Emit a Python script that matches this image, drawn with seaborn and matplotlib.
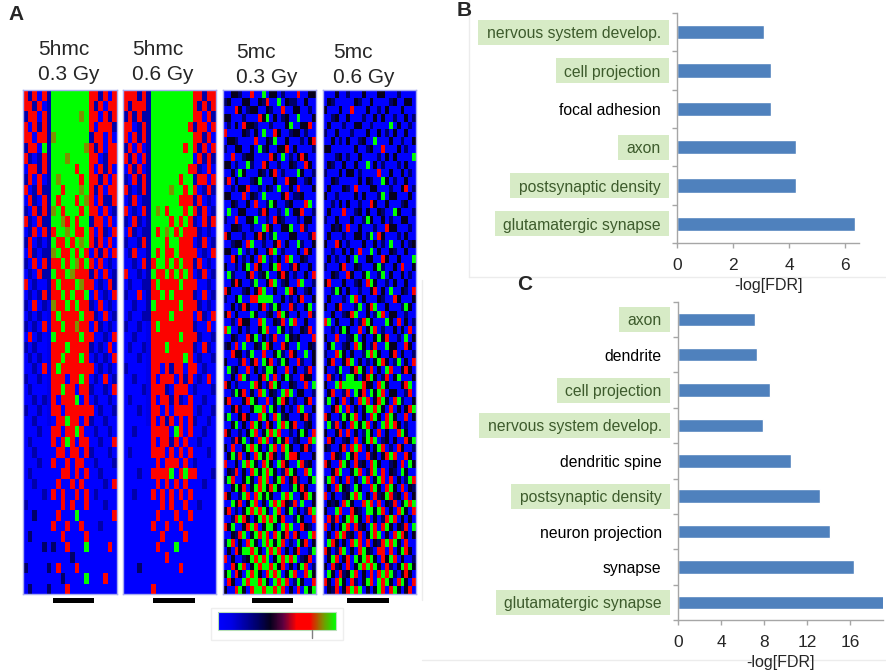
import numpy as np
import matplotlib
matplotlib.use("Agg")
import matplotlib.pyplot as plt
import seaborn as sns
from matplotlib import font_manager as fm
from matplotlib.colors import LinearSegmentedColormap, Normalize
from matplotlib.cm import ScalarMappable
from matplotlib.patches import Rectangle
from matplotlib.lines import Line2D

# ---------------- data ----------------
heat_titles = [("5hmc", "0.3 Gy"), ("5hmc", "0.6 Gy"), ("5mc", "0.3 Gy"), ("5mc", "0.6 Gy")]

# heatmap levels, digit 0 (blue) .. 9 (green)
hmc_03 = [
    "72707" "2" "99999999" "772707", "77270" "2" "99999999" "727077",
    "27707" "2" "99999989" "770727", "70727" "2" "99999999" "707772",
    "77077" "2" "89999999" "277070", "27709" "2" "99999998" "727077",
    "72027" "2" "99989999" "770277", "07727" "2" "99999799" "707270",
    "27070" "2" "98999979" "772707", "70272" "2" "99799989" "727077",
    "07207" "2" "97999798" "707227", "20727" "2" "89799979" "770702",
    "72072" "2" "99879799" "277070", "02707" "2" "79989779" "707207",
    "27020" "2" "97797989" "727070", "07202" "2" "89779797" "072707",
    "20707" "2" "77979879" "707020", "02072" "2" "97798777" "270702",
    "70200" "2" "79777987" "702072", "02027" "2" "77979779" "070207",
    "20702" "1" "87797977" "207020", "02020" "1" "79777797" "720702",
    "20207" "1" "77977877" "072020", "07020" "1" "97777797" "700207",
    "20200" "1" "77797777" "202070", "02020" "1" "77977797" "020207",
    "00207" "1" "79777777" "702020", "20020" "1" "77707797" "020702",
    "02000" "1" "77977077" "200207", "00202" "1" "70777907" "020020",
    "20020" "1" "77077777" "702002", "00200" "1" "07797707" "200200",
    "00020" "0" "77077970" "020020", "02000" "0" "70797077" "002007",
    "00200" "0" "07707707" "200020", "00020" "0" "70070770" "020002",
    "02000" "0" "00770707" "002000", "00200" "0" "07007070" "000207",
    "00002" "0" "70700707" "020000", "20000" "0" "00707007" "000200",
    "00300" "0" "07000900" "000007", "00000" "0" "70070070" "002000",
    "03000" "0" "00700007" "000000", "00003" "0" "30070009" "000070",
    "00000" "0" "00003000" "000000", "30000" "3" "07000700" "000000",
    "00000" "0" "00300009" "000700", "03000" "3" "00070000" "000000",
]
hmc_06 = [
    "77727" "2" "999999999" "77277", "72777" "2" "999999999" "72727",
    "27272" "2" "999999999" "77072", "77027" "2" "999999997" "27707",
    "70727" "2" "999999999" "77270", "27070" "2" "999999979" "72707",
    "72707" "2" "999999999" "07272", "07270" "2" "999999997" "72070",
    "20727" "2" "999999799" "27707", "72027" "2" "999989979" "70272",
    "02702" "2" "999999777" "27020", "70207" "2" "989799979" "72702",
    "20720" "2" "999979797" "20727", "07202" "2" "979897977" "72020",
    "20027" "2" "999799777" "02702", "02700" "2" "979779777" "70207",
    "00207" "2" "799797977" "27020", "70020" "2" "977979797" "02702",
    "02002" "2" "797777977" "70020", "20070" "2" "779797777" "20702",
    "00200" "2" "977777977" "72020", "02002" "2" "777797777" "07207",
    "20020" "1" "797777777" "20070", "00200" "1" "777777977" "72002",
    "02002" "1" "777977777" "20720", "00020" "1" "777777797" "02002",
    "20000" "1" "770727707" "70200", "00200" "1" "707770727" "02070",
    "00002" "1" "777207770" "20002", "02000" "1" "707727207" "00200",
    "00020" "1" "770707777" "02002", "00000" "1" "707270707" "20020",
    "00200" "0" "777709707" "00200", "00000" "0" "707727070" "02000",
    "02000" "0" "777070707" "00020", "00000" "0" "070777070" "20000",
    "00020" "0" "777790797" "70002", "00000" "0" "070707070" "00200",
    "00200" "0" "707070707" "00000", "00000" "0" "007070070" "02000",
    "00000" "0" "070007007" "00000", "00000" "0" "700700700" "00000",
    "00000" "0" "007000070" "00000", "00000" "0" "070009000" "00000",
    "00000" "0" "000700000" "00000", "00030" "0" "000000700" "00000",
    "00000" "0" "000000000" "00000", "00000" "0" "700000000" "00000",
]
mc_03 = [
    "004430 060090 440300 060044", "340004 400436 009043 300400",
    "000640 344004 300600 440030", "440003 000649 040340 090004",
    "030406 443000 300049 004460", "600004 304090 064003 440300",
    "044300 006004 390040 003046", "300440 040934 004460 400003",
    "006003 440000 640903 046400", "440300 930064 003004 300640",
    "004094 000430 460300 094003", "360400 034900 040064 400340",
    "003044 600304 309004 060004", "440006 043090 000460 334000",
    "004300 406003 940034 000690", "090044 000364 003090 446003",
    "300600 449003 064300 030440", "004430 030096 400449 006300",
    "640003 004640 390004 400036", "003440 690030 046040 093004",
    "440090 304004 690300 040640", "006403 040690 304069 004300",
    "400304 906400 496003 640040", "093000 460349 004640 300406",
    "004640 039004 690340 069003", "640003 404690 040096 400340",
    "300490 066999 900403 046004", "004036 400460 394006 300490",
    "460400 094003 406940 040063", "003064 400690 043609 600400",
    "690040 300496 009403 004360", "004300 649040 360094 340006",
    "340609 004396 400640 090043", "006440 390060 049306 400904",
    "400036 046094 603940 063004", "093400 604039 940060 400360",
    "004069 300469 060493 006440", "640300 096403 694004 300609",
    "003946 040690 430969 044003", "460004 694006 049640 300460",
    "004630 049960 940403 069004", "390046 400694 069340 004630",
    "004904 069406 409694 600340", "640030 496049 696003 049406",
    "003649 040696 049460 340069", "406004 969403 960694 004630",
    "049360 406949 640396 640004", "600409 694069 409640 096340",
    "043604 069496 940369 400690", "396004 940696 049604 630049",
    "004946 049694 694003 946400", "640039 606949 400969 004694",
    "009460 496040 969643 609004", "460304 969694 096049 040369",
    "003696 404969 694600 394006", "649004 696049 940969 006430",
    "004369 049696 069460 640096", "396040 694096 949603 094604",
    "040649 969409 696040 460039", "604003 496969 049696 903460",
    "006496 049699 694604 049603", "490640 969406 969049 600694",
    "064009 699694 096960 394006", "400694 069969 969604 060949",
]
mc_06 = [
    "000400 300040 004400 030000", "043000 004300 400003 400440",
    "400040 060004 003040 004000", "003400 400030 040400 300403",
    "040003 004400 300009 040030", "300400 030004 004030 400400",
    "004030 400340 090004 003004", "440000 004003 400600 040300",
    "000340 300400 003040 400009", "043004 004009 040300 030400",
    "300040 440300 006004 004030", "004300 000404 300940 300400",
    "040004 306000 440003 004603", "400300 004040 003904 400040",
    "003040 400300 640040 003400", "040006 003404 004300 940003",
    "300400 040039 400403 004400", "004340 600400 030064 400030",
    "040003 004403 906400 030400", "400640 300040 040309 004034",
    "003004 040600 904004 300400", "040300 409004 400640 040009",
    "300046 004300 049300 406004", "004300 640049 003904 004030",
    "460004 003406 940030 400400", "003940 400300 460409 004306",
    "040003 096040 004300 640004", "400460 003904 690040 003940",
    "004003 469004 039604 400300", "690400 040369 400094 060403",
    "003049 400604 960300 404060", "400600 349040 049460 030904",
    "049003 406940 360094 400640", "300694 040039 694004 604003",
    "046004 690403 049640 390406", "400390 046940 604096 004640",
    "063040 994046 940360 490004", "400969 999964 406940 004690",
    "046003 609460 949604 400360", "390406 040696 046940 693004",
    "004690 604049 969406 040469", "640039 496040 694069 400604",
    "093604 069496 040969 640300", "400460 604039 406040 069400",
    "064003 406049 690340 400649", "430046 069604 049603 064003",
    "006430 946006 340469 600640", "640069 406340 694003 406094",
    "004690 049603 690604 309400", "396040 604096 049606 040396",
    "040694 309400 694069 406043", "604003 496904 063496 340604",
    "043406 940069 606043 604969", "400960 064309 949604 069406",
    "063604 969406 040369 604040", "604049 606340 960694 043609",
    "040696 340604 969040 696404", "096404 069606 043696 940600",
    "640369 040694 306606 049640", "049604 609496 940649 604003",
    "406340 604969 694063 049694", "094063 496040 606969 304640",
    "640694 063049 609694 069406", "043604 696904 049606 940460",
]
heat_rows = [hmc_03, hmc_06, mc_03, mc_06]

B_terms = ["nervous system develop.", "cell projection", "focal adhesion",
           "axon", "postsynaptic density", "glutamatergic synapse"]
B_values = [3.09, 3.35, 3.35, 4.23, 4.23, 6.34]
B_highlight = [True, True, False, True, True, True]
B_ticks = [0, 2, 4, 6]

C_terms = ["axon", "dendrite", "cell projection", "nervous system develop.",
           "dendritic spine", "postsynaptic density", "neuron projection",
           "synapse", "glutamatergic synapse"]
C_values = [7.13, 7.32, 8.5, 7.88, 10.45, 13.18, 14.1, 16.37, 19.1]
C_highlight = [True, False, True, True, False, True, False, False, True]
C_ticks = [0, 4, 8, 12, 16]

x_label = "-log[FDR]"
panel_letters = ["A", "B", "C"]

# ---------------- style ----------------
sns.set_style("white")
avail = {f.name for f in fm.fontManager.ttflist}
BASE = "Liberation Sans"
NARROW = "Liberation Sans Narrow" if "Liberation Sans Narrow" in avail else None
plt.rcParams["font.family"] = [BASE, "DejaVu Sans"]
if NARROW:
    bar_font = [NARROW, BASE]
    lab_fs, tick_fs, xl_fs = 13.5, 14, 14
else:
    bar_font = [BASE]
    lab_fs, tick_fs, xl_fs = 11.3, 12.5, 11.5

W, H = 886, 671
fig = plt.figure(figsize=(W / 100, H / 100), dpi=100)


def fx(x):
    return x / W


def fy(y):
    return 1 - y / H


def box(x0, y0, x1, y1):
    return [fx(x0), fy(y1), (x1 - x0) / W, (y1 - y0) / H]


cmap = LinearSegmentedColormap.from_list("meth", [
    (0, "#0000ff"), (1 / 9, "#0000e8"), (2 / 9, "#0000a8"), (3 / 9, "#000068"),
    (4 / 9, "#06001c"), (5 / 9, "#600040"), (6 / 9, "#ff0000"), (7 / 9, "#ff0000"),
    (8 / 9, "#809000"), (1, "#00ff00")])

heat_x = [(23, 117), (123, 216), (223, 316), (323, 416)]
title_x = [38, 132, 236, 333]
title_base = [(55, 80), (55, 80), (58, 83), (58, 83)]
for (x0, x1), rows, (t1, t2), tx, (b1, b2) in zip(heat_x, heat_rows, heat_titles, title_x, title_base):
    ax = fig.add_axes(box(x0, 90, x1, 594))
    arr = np.array([[int(c) for c in r.replace(" ", "")] for r in rows]) / 9.0
    sns.heatmap(arr, ax=ax, cmap=cmap, vmin=0, vmax=1, cbar=False,
                xticklabels=False, yticklabels=False)
    for s in ax.spines.values():
        s.set_visible(True)
        s.set_color("#a8acf0")
        s.set_linewidth(1)
    fig.text(fx(tx), fy(b1), t1, fontsize=15, va="baseline", ha="left")
    fig.text(fx(tx), fy(b2), t2, fontsize=15, va="baseline", ha="left")

for (a, b) in [(53, 94), (153, 195), (252, 293), (347, 389)]:
    fig.add_artist(Rectangle((fx(a), fy(603)), (b - a) / W, 5 / H,
                             transform=fig.transFigure, color="black", lw=0))

# colour bar
fig.add_artist(Rectangle((fx(211), fy(640)), 132 / W, 32 / H, transform=fig.transFigure,
                         fill=False, ec="#eeeeee", lw=1))
cax = fig.add_axes(box(218, 612, 336, 630))
cb = fig.colorbar(ScalarMappable(Normalize(0, 1), cmap), cax=cax, orientation="horizontal")
cb.set_ticks([])
cb.outline.set_edgecolor("#b8e0b8")
fig.add_artist(Line2D([fx(312), fx(312)], [fy(630), fy(638)], color="#808080", lw=1,
                      transform=fig.transFigure))


def bar_panel(rect, terms, values, highlight, ticks, xmax):
    ax = fig.add_axes(rect)
    sns.barplot(x=values, y=terms, orient="h", color="#4f81bd", saturation=1,
                width=0.38, ax=ax)
    ax.set_xlim(0, xmax)
    ax.set_ylim(len(terms) - 0.5, -0.5)
    ax.set_facecolor("none")
    for s in ["top", "right"]:
        ax.spines[s].set_visible(False)
    for s in ["left", "bottom"]:
        ax.spines[s].set_color("#a6a6a6")
        ax.spines[s].set_linewidth(1)
    ax.set_xticks(ticks)
    ax.set_yticks(np.arange(-0.5, len(terms) + 0.5, 1), minor=True)
    ax.tick_params(axis="y", which="major", length=0, pad=12, labelsize=lab_fs)
    ax.tick_params(axis="y", which="minor", length=3.6, width=1, color="#a6a6a6",
                   direction="out", left=True)
    ax.tick_params(axis="x", length=3.6, width=1, color="#a6a6a6", direction="out",
                   bottom=True, labelsize=tick_fs, pad=7.5)
    ax.set_xlabel(x_label, fontsize=xl_fs, labelpad=3, family=bar_font)
    ax.set_ylabel("")
    for lbl in ax.get_yticklabels() + ax.get_xticklabels():
        lbl.set_family(bar_font)
    for lbl, hl in zip(ax.get_yticklabels(), highlight):
        lbl.set_color("#3d5b2c" if hl else "black")
    return ax


axB = bar_panel(box(677.3, 13, 859.3, 243), B_terms, B_values, B_highlight, B_ticks, 6.5)
axC = bar_panel(box(678.3, 301.7, 882.6, 620), C_terms, C_values, C_highlight, C_ticks, 19)

# faint panel frames
for xs, ys in [([469, 469], [0, 277]), ([469, 886], [277, 277]),
               ([422, 422], [280, 600]), ([422, 886], [660, 660])]:
    fig.add_artist(Line2D([fx(v) for v in xs], [fy(v) for v in ys], color="#ececec",
                          lw=1, transform=fig.transFigure, zorder=-1))

fig.text(fx(8), fy(15), panel_letters[0], fontsize=15, fontweight="bold", va="center")
fig.text(fx(457), fy(10), panel_letters[1], fontsize=15, fontweight="bold", va="center")
fig.text(fx(517), fy(284), panel_letters[2], fontsize=15, fontweight="bold", va="center")

# green highlight boxes behind the highlighted category labels
fig.canvas.draw()
rend = fig.canvas.get_renderer()
for ax, hls in [(axB, B_highlight), (axC, C_highlight)]:
    inv = ax.transAxes.inverted()
    for i, (lbl, hl) in enumerate(zip(ax.get_yticklabels(), hls)):
        if not hl:
            continue
        bb = lbl.get_window_extent(rend)
        yc = ax.transData.transform((0, i))[1]
        p0 = inv.transform((bb.x0 - 8.5, yc - 12.5))
        p1 = inv.transform((bb.x1 + 8.5, yc + 12.5))
        ax.add_patch(Rectangle(p0, p1[0] - p0[0], p1[1] - p0[1], transform=ax.transAxes,
                               fc="#d7ebc6", ec="none", clip_on=False, zorder=0.5))

fig.savefig("out.png", dpi=100)
